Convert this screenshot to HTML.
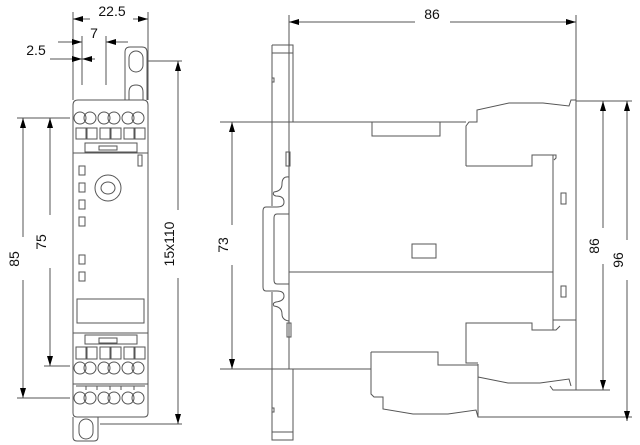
<!DOCTYPE html>
<html><head><meta charset="utf-8"><style>
html,body{margin:0;padding:0;background:#fff;}
svg{display:block;}
text{font-family:"Liberation Sans",Arial,sans-serif;font-size:14px;fill:#111;}
</style></head><body>
<svg width="640" height="445" viewBox="0 0 640 445" xmlns="http://www.w3.org/2000/svg">
<defs>
<marker id="a" viewBox="0 0 10 6" refX="10" refY="3" markerWidth="10" markerHeight="6" orient="auto-start-reverse" markerUnits="userSpaceOnUse"><path d="M0,0 L10,3 L0,6 z" fill="#000"/></marker>
</defs>
<g fill="none" stroke="#555" stroke-width="1">
<!-- ===== LEFT FRONT VIEW ===== -->
<!-- extension lines -->
<line x1="73" y1="12" x2="73" y2="100"/>
<line x1="148" y1="12" x2="148" y2="100"/>
<line x1="82" y1="36" x2="82" y2="85"/>
<line x1="106" y1="36" x2="106" y2="85"/>
<line x1="17" y1="118" x2="70" y2="118"/>
<line x1="44" y1="118" x2="70" y2="118"/>
<line x1="17" y1="398" x2="70" y2="398"/>
<line x1="44" y1="366" x2="70" y2="366"/>
<line x1="148" y1="61" x2="182" y2="61"/>
<line x1="100" y1="424" x2="182" y2="424"/>
<!-- top tab -->
<path d="M125,100 V52 Q125,47 130,47 H142 Q147,47 147,52 V100"/>
<rect x="129" y="51" width="14" height="21" rx="7"/>
<path d="M129,100 V92 Q129,85 136,85 Q143,85 143,92 V100"/>
<!-- module body -->
<path d="M73,105 Q73,100 78,100 H143 Q148,100 148,105 V413 Q148,417 144,417 H77 Q73,417 73,413 Z"/>
<!-- top terminals -->
<g>
<circle cx="80" cy="118" r="6"/><circle cx="90" cy="118" r="6"/>
<circle cx="104" cy="118" r="6"/><circle cx="114" cy="118" r="6"/>
<circle cx="128" cy="118" r="6"/><circle cx="138" cy="118" r="6"/>
<rect x="76" y="128" width="10" height="11"/><rect x="87" y="128" width="10" height="11"/>
<rect x="100" y="128" width="10" height="11"/><rect x="111" y="128" width="10" height="11"/>
<rect x="124" y="128" width="10" height="11"/><rect x="135" y="128" width="10" height="11"/>
<rect x="85" y="143" width="52" height="9"/>
<rect x="99" y="146" width="18" height="4"/>
</g>
<line x1="73" y1="153" x2="148" y2="153"/>
<rect x="138" y="155" width="4" height="11"/>
<rect x="79" y="166" width="6" height="9"/>
<rect x="79" y="183" width="6" height="9"/>
<rect x="79" y="200" width="6" height="9"/>
<rect x="79" y="217" width="6" height="9"/>
<rect x="79" y="255" width="6" height="9"/>
<rect x="79" y="272" width="6" height="9"/>
<circle cx="108" cy="188" r="13"/>
<ellipse cx="108" cy="188" rx="7" ry="6"/>
<rect x="77" y="299" width="67" height="24"/>
<line x1="73" y1="333" x2="148" y2="333"/>
<rect x="85" y="335" width="52" height="9"/>
<rect x="99" y="338" width="18" height="5"/>
<rect x="76" y="347" width="10" height="12"/><rect x="87" y="347" width="10" height="12"/>
<rect x="100" y="347" width="10" height="12"/><rect x="111" y="347" width="10" height="12"/>
<rect x="124" y="347" width="10" height="12"/><rect x="135" y="347" width="10" height="12"/>
<circle cx="80" cy="368" r="6"/><circle cx="90" cy="368" r="6"/>
<circle cx="104" cy="368" r="6"/><circle cx="114" cy="368" r="6"/>
<circle cx="128" cy="368" r="6"/><circle cx="138" cy="368" r="6"/>
<line x1="73" y1="384" x2="148" y2="384"/>
<path d="M76,386 h69 M86,386 v4 M97,386 v4 M110,386 v4 M121,386 v4 M134,386 v4"/>
<circle cx="80" cy="398" r="6"/><circle cx="90" cy="398" r="6"/>
<circle cx="104" cy="398" r="6"/><circle cx="114" cy="398" r="6"/>
<circle cx="128" cy="398" r="6"/><circle cx="138" cy="398" r="6"/>
<!-- bottom tab -->
<path d="M73,417 V437 Q73,441 77,441 H94 Q98,441 98,437 V417"/>
<rect x="79" y="419" width="14" height="20" rx="7"/>

<!-- dim lines left -->
<line x1="73" y1="19" x2="90" y2="19" marker-start="url(#a)"/>
<line x1="133" y1="19" x2="148" y2="19" marker-end="url(#a)"/>
<line x1="58" y1="42" x2="82" y2="42" marker-end="url(#a)"/>
<line x1="106" y1="42" x2="128" y2="42" marker-start="url(#a)"/>
<line x1="50" y1="59" x2="82" y2="59" marker-end="url(#a)"/>
<line x1="82" y1="59" x2="95" y2="59" marker-start="url(#a)"/>
<line x1="23" y1="118" x2="23" y2="237" marker-start="url(#a)"/>
<line x1="23" y1="280" x2="23" y2="398" marker-end="url(#a)"/>
<line x1="50" y1="118" x2="50" y2="215" marker-start="url(#a)"/>
<line x1="50" y1="268" x2="50" y2="366" marker-end="url(#a)"/>
<line x1="178" y1="61" x2="178" y2="210" marker-start="url(#a)"/>
<line x1="178" y1="278" x2="178" y2="424" marker-end="url(#a)"/>

<!-- ===== RIGHT SIDE VIEW ===== -->
<line x1="289" y1="15" x2="289" y2="122"/>
<line x1="576" y1="15" x2="576" y2="101"/>
<line x1="289" y1="22" x2="415" y2="22" marker-start="url(#a)"/>
<line x1="450" y1="22" x2="576" y2="22" marker-end="url(#a)"/>
<!-- mounting plate -->
<path d="M272,45 H293 V122 M272,45 V206 M272,292 V440 H293 V369"/>
<line x1="272" y1="53" x2="293" y2="53"/>
<line x1="272" y1="432" x2="293" y2="432"/>
<path d="M272,78 h2 v4 h-2 M272,408 h2 v4 h-2"/>
<rect x="286" y="152" width="4" height="14"/>
<rect x="287" y="323" width="4" height="14"/>
<!-- DIN rail -->
<path d="M289,177 Q282,176 282,184 Q282,191 274,192 Q272,195 276,196 Q284,196 284,202 Q284,207 277,207 H266 Q263,207 263,211 V287 Q263,291 266,291 H277 Q284,291 284,296 Q284,301 276,302 Q272,303 274,306 Q282,307 282,314 Q282,320 289,321"/>
<path d="M289,214 H277 Q274,214 274,218 V280 Q274,284 277,284 H289"/>
<!-- body -->
<line x1="220" y1="122" x2="466" y2="122"/>
<line x1="220" y1="369" x2="371" y2="369"/>
<line x1="289" y1="272" x2="553" y2="272"/>
<line x1="289" y1="122" x2="289" y2="369"/>
<rect x="372" y="122" width="68" height="14"/>
<rect x="412" y="244" width="24" height="14"/>
<!-- upper terminal block -->
<path d="M466,166 V126 L469,122 H477 V110 L509,103 H543 L569,106 L571,100 H576"/>
<path d="M466,166 H532 V155 H553 V330 H532 V323 H466 V363 H478"/>
<path d="M553,155 H556 V158 L554,160 M553,330 H556 L560,326"/>
<rect x="561" y="193" width="5" height="11"/>
<rect x="561" y="286" width="5" height="11"/>
<!-- module front -->
<path d="M576,100 V390 H553 L550,386"/>
<line x1="553" y1="320" x2="576" y2="320"/>
<!-- lower terminal blocks -->
<path d="M478,364 V417 M478,377 L508,383 H540 L569,379 L571,386"/>
<path d="M371,352 H438 V365 H478 M371,352 V394 L374,397 H383 V409 L413,414 H448 L476,410 L478,417 H632"/>
<!-- 73 dim -->
<line x1="232" y1="122" x2="232" y2="225" marker-start="url(#a)"/>
<line x1="232" y1="265" x2="232" y2="369" marker-end="url(#a)"/>
<!-- right dims -->
<line x1="576" y1="101" x2="632" y2="101"/>
<line x1="576" y1="390" x2="610" y2="390"/>
<line x1="603" y1="101" x2="603" y2="228" marker-start="url(#a)"/>
<line x1="603" y1="264" x2="603" y2="390" marker-end="url(#a)"/>
<line x1="627" y1="101" x2="627" y2="240" marker-start="url(#a)"/>
<line x1="627" y1="280" x2="627" y2="421" marker-end="url(#a)"/>
</g>
<!-- labels -->
<text x="112" y="16" text-anchor="middle">22.5</text>
<text x="94" y="38" text-anchor="middle">7</text>
<text x="36" y="55" text-anchor="middle">2.5</text>
<text x="432" y="19" text-anchor="middle">86</text>
<text transform="translate(19,259) rotate(-90)" text-anchor="middle">85</text>
<text transform="translate(46,242) rotate(-90)" text-anchor="middle">75</text>
<text transform="translate(174,244) rotate(-90)" text-anchor="middle">15x110</text>
<text transform="translate(228,245) rotate(-90)" text-anchor="middle">73</text>
<text transform="translate(599,246) rotate(-90)" text-anchor="middle">86</text>
<text transform="translate(623,260) rotate(-90)" text-anchor="middle">96</text>
</svg>
</body></html>
